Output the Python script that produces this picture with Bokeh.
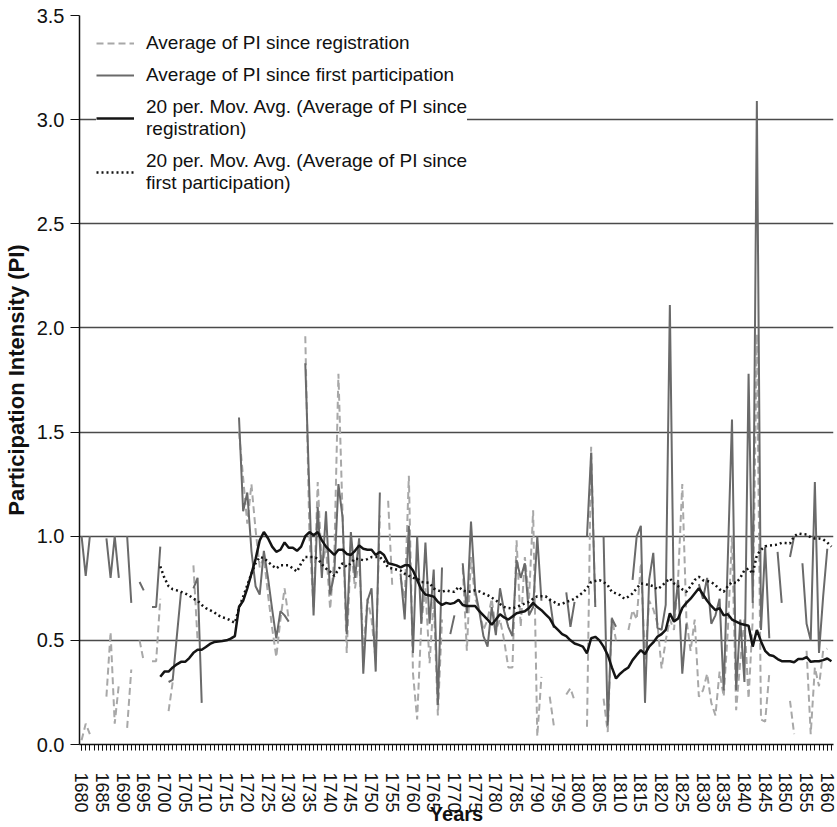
import numpy as np
from bokeh.plotting import figure
from bokeh.models import Range1d, FixedTicker, PrintfTickFormatter, Legend, LegendItem
from bokeh.embed import file_html
from bokeh.resources import INLINE

# ---------------- data ----------------
years = list(range(1680, 1862))

since_registration = [
    0.02, 0.10, 0.05, None, None, None, 0.23, 0.54, 0.10, 0.29,   # 1680s
    None, 0.08, 0.36, None, 0.50, 0.40, None, 0.40, 0.40, 0.70,   # 1690s
    None, 0.16, 0.30, None, None, None, None, 0.86, 0.50, None,   # 1700s
    None, None, None, None, None, None, None, None, 1.50, 1.28,   # 1710s
    1.06, 1.25, 1.03, 0.85, 0.90, 0.72, 0.56, 0.42, 0.60, 0.75,   # 1720s
    0.60, None, None, None, 1.96, 1.00, 0.65, 1.26, 0.85, 0.95,   # 1730s
    0.65, 0.90, 1.78, 1.10, 0.44, 0.95, 0.75, 0.90, 0.45, 0.70,   # 1740s
    0.60, 0.40, 1.10, None, 1.17, 0.76, None, 0.80, 0.70, 1.29,   # 1750s
    0.34, 0.12, 0.58, 0.75, 0.39, 0.70, 0.14, 0.60, None, None,   # 1760s
    None, None, 0.85, 0.45, 0.90, 0.70, 0.65, 0.55, 0.60, 0.70,   # 1770s
    0.55, 0.60, 0.50, 0.37, 0.37, 0.98, 0.565, 0.90, 0.70, 1.125, # 1780s
    0.04, 0.325, None, 0.23, 0.09, None, None, 0.24, 0.27, 0.21,  # 1790s
    None, None, 0.085, 1.43, 0.66, None, 0.22, 0.06, 0.61, 0.50,  # 1800s
    None, None, 0.55, 0.645, 0.60, 0.87, 0.40, 0.69, 0.65, 0.58,  # 1810s
    0.365, 0.50, 0.60, 0.55, 0.80, 1.25, 0.60, 0.45, 0.60, 0.23,  # 1820s
    0.26, 0.34, 0.20, 0.14, 0.35, 0.23, 0.55, 1.00, 0.165, 0.40,  # 1830s
    0.60, 0.22, 0.60, 1.97, 0.12, 0.11, 0.34, None, None, None,   # 1840s
    None, 0.21, 0.05, None, None, 0.45, 0.05, 0.37, 0.28, 0.45,   # 1850s
    0.46, None,                                                   # 1860s
]

since_first = [
    1.00, 0.81, 1.00, None, None, None, 0.99, 0.80, 1.00, 0.80,   # 1680s
    None, 1.00, 0.68, None, 0.78, 0.74, None, 0.66, 0.66, 0.95,   # 1690s
    None, 0.30, 0.31, 0.52, 0.73, None, None, 0.75, 0.80, 0.20,   # 1700s
    None, None, None, None, None, None, None, None, 1.57, 1.12,   # 1710s
    1.21, 0.93, 0.76, 0.72, 0.93, 0.80, 0.65, 0.51, 0.64, 0.62,   # 1720s
    0.59, None, None, None, 1.83, 1.20, 0.62, 1.14, 0.80, 1.12,   # 1730s
    0.72, 0.82, 1.25, 1.09, 0.53, 1.02, 0.80, 0.99, 0.34, 0.69,   # 1740s
    0.75, 0.35, 1.21, None, None, None, None, 0.82, 0.60, 1.05,   # 1750s
    0.44, 1.00, 0.58, 0.97, 0.58, 0.84, 0.19, 0.85, None, 0.53,   # 1760s
    0.62, None, 0.87, 0.63, 1.07, 0.74, 0.64, 0.52, 0.47, 0.66,   # 1770s
    0.525, 0.75, 0.64, 0.565, 0.52, 0.885, 0.80, 0.87, 0.62, 0.66,# 1780s
    1.00, 0.69, None, 0.70, 0.56, None, None, 0.73, 0.565, 0.685, # 1790s
    None, None, 1.00, 1.40, 0.66, None, 1.00, 0.09, 0.605, 0.565, # 1800s
    None, None, None, 0.79, 1.00, 1.05, 0.20, 0.79, 0.92, 0.56,   # 1810s
    0.55, 0.67, 2.11, 0.60, 0.79, 0.34, 0.58, None, None, 0.77,   # 1820s
    0.70, 0.80, 0.58, 0.62, 0.70, 0.26, 0.90, 1.56, 0.26, 0.60,   # 1830s
    0.30, 1.78, 0.68, 3.09, 0.55, 0.95, 0.51, None, 0.925, 0.68,  # 1840s
    None, 0.90, 1.00, None, 0.87, 0.58, 0.50, 1.26, 0.44, 0.71,   # 1850s
    0.94, None,                                                   # 1860s
]

ma_years = list(range(1699, 1862))

ma_registration = [
    0.325,
    0.35, 0.35, 0.37, 0.385, 0.397, 0.397, 0.415, 0.44, 0.455, 0.455,
    0.468, 0.483, 0.492, 0.495, 0.497, 0.50, 0.508, 0.52, 0.66, 0.69,
    0.75, 0.82, 0.89, 0.98, 1.02, 0.99, 0.95, 0.925, 0.935, 0.97,
    0.945, 0.945, 0.93, 0.95, 1.00, 1.02, 1.005, 1.02, 0.98, 0.95,
    0.93, 0.91, 0.935, 0.935, 0.915, 0.91, 0.93, 0.955, 0.94, 0.935,
    0.935, 0.91, 0.925, 0.91, 0.87, 0.865, 0.86, 0.85, 0.86, 0.86,
    0.835, 0.79, 0.745, 0.72, 0.715, 0.71, 0.685, 0.67, 0.68, 0.675,
    0.68, 0.695, 0.67, 0.665, 0.665, 0.665, 0.64, 0.62, 0.60, 0.575,
    0.60, 0.625, 0.61, 0.60, 0.615, 0.63, 0.635, 0.64, 0.655, 0.68,
    0.66, 0.645, 0.625, 0.605, 0.57, 0.55, 0.53, 0.52, 0.50, 0.485,
    0.478, 0.47, 0.437, 0.51, 0.517, 0.50, 0.47, 0.43, 0.37, 0.317,
    0.34, 0.357, 0.37, 0.405, 0.43, 0.453, 0.434, 0.47, 0.49, 0.517,
    0.53, 0.55, 0.63, 0.59, 0.605, 0.655, 0.68, 0.70, 0.725, 0.75,
    0.72, 0.69, 0.665, 0.645, 0.655, 0.62, 0.625, 0.60, 0.59, 0.58,
    0.575, 0.57, 0.47, 0.55, 0.495, 0.45, 0.43, 0.425, 0.41, 0.40,
    0.40, 0.40, 0.395, 0.41, 0.41, 0.42, 0.397, 0.40, 0.40, 0.405,
    0.413, 0.40,
]

ma_first = [
    0.855,
    0.80, 0.76, 0.745, 0.74, 0.733, 0.725, 0.715, 0.70, 0.69, 0.67,
    0.655, 0.645, 0.635, 0.62, 0.61, 0.605, 0.595, 0.584, 0.655, 0.71,
    0.765, 0.82, 0.87, 0.90, 0.895, 0.877, 0.86, 0.845, 0.86, 0.86,
    0.86, 0.845, 0.83, 0.87, 0.90, 0.90, 0.90, 0.893, 0.865, 0.845,
    0.83, 0.81, 0.84, 0.87, 0.853, 0.87, 0.893, 0.89, 0.885, 0.89,
    0.90, 0.90, 0.90, 0.88, 0.85, 0.845, 0.84, 0.835, 0.82, 0.81,
    0.80, 0.797, 0.78, 0.778, 0.776, 0.749, 0.74, 0.733, 0.74, 0.735,
    0.733, 0.757, 0.74, 0.733, 0.735, 0.74, 0.735, 0.725, 0.717, 0.705,
    0.693, 0.675, 0.66, 0.655, 0.653, 0.66, 0.669, 0.677, 0.685, 0.70,
    0.712, 0.712, 0.712, 0.695, 0.685, 0.672, 0.675, 0.685, 0.69, 0.70,
    0.715, 0.73, 0.75, 0.78, 0.785, 0.789, 0.78, 0.765, 0.733, 0.725,
    0.717, 0.70, 0.71, 0.725, 0.75, 0.773, 0.77, 0.765, 0.76, 0.745,
    0.76, 0.78, 0.797, 0.773, 0.76, 0.745, 0.733, 0.76, 0.79, 0.805,
    0.789, 0.785, 0.78, 0.765, 0.745, 0.733, 0.76, 0.78, 0.775, 0.80,
    0.837, 0.845, 0.82, 0.909, 0.935, 0.952, 0.955, 0.957, 0.96, 0.968,
    0.967, 0.965, 1.00, 1.013, 1.01, 1.008, 0.995, 0.989, 0.989, 0.985,
    0.97, 0.95,
]

x_ticks = list(range(1680, 1861, 5))
y_ticks = [0.0, 0.5, 1.0, 1.5, 2.0, 2.5, 3.0, 3.5]

labels = [
    "Average of PI since registration",
    "Average of PI since first participation",
    "20 per. Mov. Avg. (Average of PI since\nregistration)",
    "20 per. Mov. Avg. (Average of PI since\nfirst participation)",
]

# ---------------- figure ----------------
FONT = "Liberation Sans"

p = figure(
    width=837, height=827,
    x_range=Range1d(1679.5, 1861.5), y_range=Range1d(0, 3.5),
    output_backend="svg", toolbar_location=None,
    min_border_left=77, min_border_right=4, min_border_top=15, min_border_bottom=82,
    x_axis_label="Years", y_axis_label="Participation Intensity (PI)",
)
p.outline_line_color = None
p.background_fill_color = "white"
p.border_fill_color = "white"

# grid
p.xgrid.visible = False
p.ygrid.ticker = FixedTicker(ticks=y_ticks)
p.ygrid.grid_line_color = "#4a4a4a"
p.ygrid.grid_line_width = 1.3

# x axis
xa = p.xaxis[0]
xa.ticker = FixedTicker(ticks=x_ticks, minor_ticks=years)
xa.formatter = PrintfTickFormatter(format="%d")
xa.major_label_orientation = "vertical"
xa.major_tick_in = 0
xa.major_tick_out = 6
xa.minor_tick_in = 0
xa.minor_tick_out = 6
xa.major_label_standoff = 22
xa.axis_line_width = 1.5
xa.axis_line_color = "#111111"
xa.major_tick_line_color = "#111111"
xa.minor_tick_line_color = "#111111"
xa.major_label_text_font = FONT
xa.major_label_text_font_size = "18px"
xa.major_label_text_color = "#111111"
xa.axis_label_text_font = FONT
xa.axis_label_text_font_size = "20px"
xa.axis_label_text_font_style = "bold"
xa.axis_label_text_color = "#111111"
xa.axis_label_standoff = -13

# y axis
ya = p.yaxis[0]
ya.ticker = FixedTicker(ticks=y_ticks)
ya.formatter = PrintfTickFormatter(format="%.1f")
ya.major_tick_in = 0
ya.major_tick_out = 9
ya.minor_tick_out = 0
ya.minor_tick_in = 0
ya.major_label_standoff = 6
ya.axis_line_width = 1.5
ya.axis_line_color = "#111111"
ya.major_tick_line_color = "#111111"
ya.major_label_text_font = FONT
ya.major_label_text_font_size = "20px"
ya.major_label_text_color = "#111111"
ya.axis_label_text_font = FONT
ya.axis_label_text_font_size = "22px"
ya.axis_label_text_font_style = "bold"
ya.axis_label_text_color = "#111111"
ya.axis_label_standoff = 5

# series
r1 = p.line(years, np.array(since_registration, dtype=float),
            line_color="#a8a8a8", line_width=2, line_dash="7 4")
r2 = p.line(years, np.array(since_first, dtype=float),
            line_color="#6a6a6a", line_width=2)
r3 = p.line(ma_years, np.array(ma_registration, dtype=float),
            line_color="#141414", line_width=2.5)
r4 = p.line(ma_years, np.array(ma_first, dtype=float),
            line_color="#141414", line_width=2.5, line_dash="2 3")

legend = Legend(
    items=[LegendItem(label=labels[0], renderers=[r1]),
           LegendItem(label=labels[1], renderers=[r2]),
           LegendItem(label=labels[2], renderers=[r3]),
           LegendItem(label=labels[3], renderers=[r4])],
    location="top_left",
    margin=17, padding=13, spacing=10,
    glyph_width=38, glyph_height=20, label_height=20, label_standoff=12,
    label_text_font=FONT, label_text_font_size="19px", label_text_color="#111111",
    border_line_color=None, background_fill_color="white", background_fill_alpha=1.0,
)
p.add_layout(legend)

open("out.html", "w").write(file_html(p, INLINE))
